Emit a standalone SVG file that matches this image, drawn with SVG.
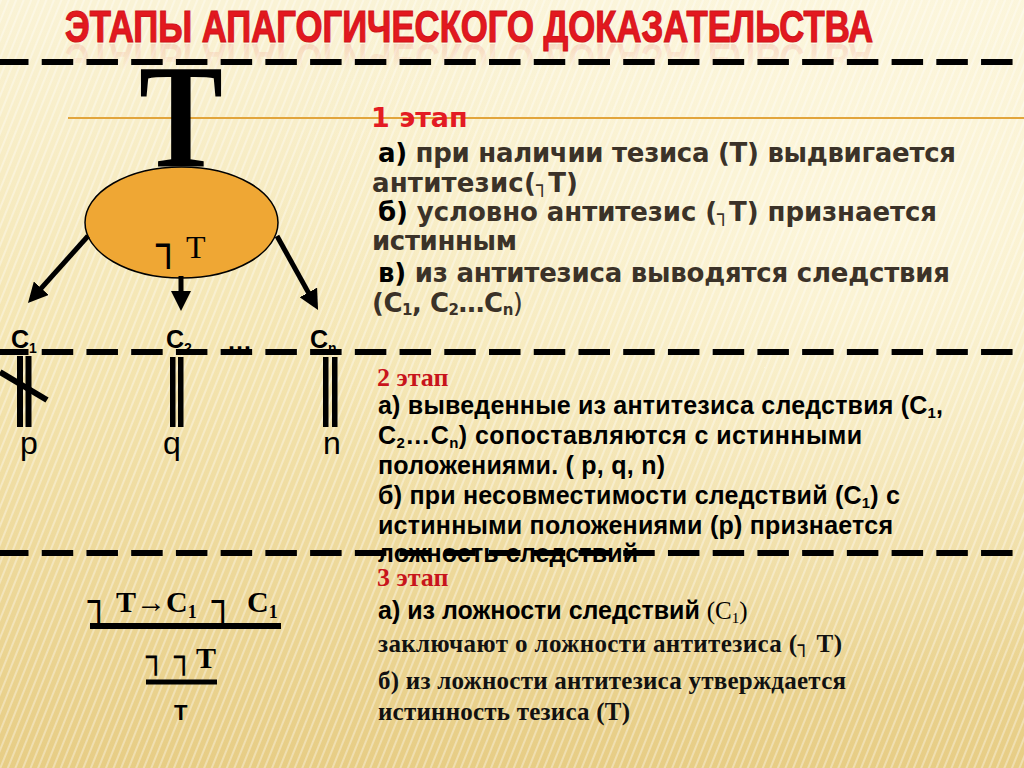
<svg xmlns="http://www.w3.org/2000/svg" width="1024" height="768" viewBox="0 0 1024 768">
  <defs>
    <linearGradient id="bg" x1="0" y1="0" x2="0" y2="1">
      <stop offset="0" stop-color="#faf3d6"/>
      <stop offset="0.45" stop-color="#f4e5b1"/>
      <stop offset="1" stop-color="#e7cd85"/>
    </linearGradient>
    <radialGradient id="glow" cx="0.85" cy="0.3" r="0.6">
      <stop offset="0" stop-color="#fffbe8" stop-opacity="0.7"/>
      <stop offset="1" stop-color="#fffbe8" stop-opacity="0"/>
    </radialGradient>
    <pattern id="stripes" width="7" height="7" patternUnits="userSpaceOnUse" patternTransform="rotate(22)">
      <rect x="0" y="0" width="2" height="7" fill="#ffffff" opacity="0.35"/>
    </pattern>
    <linearGradient id="refl" x1="0" y1="0" x2="0" y2="1">
      <stop offset="0.3" stop-color="#e3262b" stop-opacity="0"/>
      <stop offset="1" stop-color="#e3262b" stop-opacity="0.18"/>
    </linearGradient>
    <marker id="ah" markerUnits="userSpaceOnUse" markerWidth="20" markerHeight="20" refX="3" refY="10" orient="auto">
      <path d="M0,0 L20,10 L0,20 z" fill="#000"/>
    </marker>
    <style>
      .dash { stroke:#000; stroke-width:6; stroke-dasharray:31.5 13.23; fill:none; }
      .s1 { font-family:"DejaVu Sans", sans-serif; font-weight:bold; font-size:26px; fill:#3b3228; }
      .s2 { font-family:"Liberation Sans", Arial, sans-serif; font-weight:bold; font-size:25px; fill:#000; }
      .s3 { font-family:"Liberation Serif", "Times New Roman", serif; font-weight:bold; font-size:25px; fill:#111; }
      .blk { fill:#000; }
      .box { font-family:"DejaVu Sans", sans-serif; font-weight:normal; }
      .lbl { font-family:"Liberation Sans", Arial, sans-serif; font-weight:bold; font-size:25px; fill:#000; }
      .sub { font-size:14px; }
      .pq { font-family:"Liberation Sans", Arial, sans-serif; font-size:32px; fill:#000; }
      .frm { font-family:"Liberation Serif", "Times New Roman", serif; font-weight:bold; font-size:30px; fill:#000; }
      .stg { font-family:"Liberation Serif", "Times New Roman", serif; font-weight:bold; font-size:26px; fill:#c8141b; }
      .bar { fill:#000; }
    </style>
  </defs>

  <!-- background -->
  <rect width="1024" height="768" fill="url(#bg)"/>
  <rect width="1024" height="768" fill="url(#glow)"/>
  <rect width="1024" height="768" fill="url(#stripes)"/>

  <!-- title -->
  <g id="title">
    <text transform="matrix(1,0,0,-1,0,86)" x="65" y="42" font-family="'Liberation Sans', Arial, sans-serif" font-weight="bold" font-size="45" fill="url(#refl)" textLength="808" lengthAdjust="spacingAndGlyphs">ЭТАПЫ АПАГОГИЧЕСКОГО ДОКАЗАТЕЛЬСТВА</text>
    <text x="65" y="42" font-family="'Liberation Sans', Arial, sans-serif" font-weight="bold" font-size="45" fill="#e3181f" stroke="#d0141a" stroke-width="1.2" textLength="808" lengthAdjust="spacingAndGlyphs">ЭТАПЫ АПАГОГИЧЕСКОГО ДОКАЗАТЕЛЬСТВА</text>
  </g>

  <!-- thin orange rule -->
  <line x1="68" y1="118" x2="1024" y2="118" stroke="#e2a53c" stroke-width="2"/>

  <!-- thesis T -->
  <g id="thesis">
    <text x="139" y="167" font-family="'Liberation Serif', 'Times New Roman', serif" font-weight="bold" font-size="148" fill="#000" textLength="84" lengthAdjust="spacingAndGlyphs">T</text>
  </g>

  <!-- antithesis ellipse -->
  <g id="antithesis">
    <ellipse cx="181.5" cy="222.5" rx="96.5" ry="55.5" fill="#efa734" stroke="#000" stroke-width="1.5"/>
    <text x="156" y="259" class="box" font-size="40" fill="#000">┐</text>
    <text x="186" y="258" font-family="'Liberation Serif', 'Times New Roman', serif" font-size="32" fill="#000">T</text>
  </g>

  <!-- connectors -->
  <g id="connectors" stroke="#000" stroke-width="5" fill="none">
    <line x1="88" y1="236" x2="39.3" y2="290.4" marker-end="url(#ah)"/>
    <line x1="181" y1="276" x2="181" y2="294" marker-end="url(#ah)"/>
    <line x1="277" y1="236" x2="309.8" y2="295.1" marker-end="url(#ah)"/>
  </g>

  <!-- consequences -->
  <g id="c1">
    <text x="11" y="348" class="lbl">C<tspan class="sub" dy="5">1</tspan></text>
  </g>
  <g id="c2">
    <text x="166" y="348" class="lbl">C<tspan class="sub" dy="5">2</tspan></text>
  </g>
  <g id="dots">
    <text x="227" y="350" class="lbl">…</text>
  </g>
  <g id="cn">
    <text x="310" y="348" class="lbl">C<tspan class="sub" dy="5">n</tspan></text>
  </g>

  <!-- equality bars -->
  <g id="eq-p">
    <rect x="17" y="356" width="6" height="71" class="bar"/>
    <rect x="25.5" y="356" width="6" height="71" class="bar"/>
    <line x1="0" y1="372" x2="47" y2="400" stroke="#000" stroke-width="6"/>
    <text x="20" y="454" class="pq">p</text>
  </g>
  <g id="eq-q">
    <rect x="170" y="357" width="5.5" height="70" class="bar"/>
    <rect x="178" y="357" width="5.5" height="70" class="bar"/>
    <text x="163" y="454" class="pq">q</text>
  </g>
  <g id="eq-n">
    <rect x="323" y="357" width="5.5" height="70" class="bar"/>
    <rect x="332" y="357" width="5.5" height="70" class="bar"/>
    <text x="323" y="454" class="pq">n</text>
  </g>

  <!-- stage 1 -->
  <g id="stage1">
    <text x="371" y="127" font-family="'DejaVu Sans', sans-serif" font-weight="bold" font-size="27" fill="#e31b23">1 этап</text>
    <text x="378" y="162" class="s1" textLength="578"><tspan class="blk">а)</tspan> при наличии тезиса (Т) выдвигается</text>
    <text x="372" y="192" class="s1" textLength="206">антитезис(<tspan class="box" font-size="20">┐</tspan>Т)</text>
    <text x="378" y="221" class="s1" textLength="559"><tspan class="blk">б)</tspan> условно антитезис (<tspan class="box" font-size="20">┐</tspan>Т) признается</text>
    <text x="372" y="250" class="s1" textLength="145">истинным</text>
    <text x="378" y="282" class="s1" textLength="572"><tspan class="blk">в)</tspan> из антитезиса выводятся следствия</text>
    <text x="372" y="312" class="s1" textLength="151">(C<tspan font-size="15" dy="3">1</tspan><tspan dy="-3">, C</tspan><tspan font-size="15" dy="3">2</tspan><tspan dy="-3">…C</tspan><tspan font-size="15" dy="3">n</tspan><tspan dy="-3" font-weight="normal">)</tspan></text>
  </g>

  <!-- stage 2 -->
  <g id="stage2">
    <text x="377" y="386" class="stg">2 этап</text>
    <text x="378" y="414" class="s2" textLength="565">а) выведенные из антитезиса следствия (C<tspan font-size="15" dy="4">1</tspan><tspan dy="-4">,</tspan></text>
    <text x="378" y="444" class="s2" textLength="484">C<tspan font-size="15" dy="4">2</tspan><tspan dy="-4">…C</tspan><tspan font-size="15" dy="4">n</tspan><tspan dy="-4">)  сопоставляются с истинными</tspan></text>
    <text x="378" y="474" class="s2" textLength="287">положениями. ( p, q, n)</text>
    <text x="378" y="504" class="s2" textLength="522">б) при несовместимости следствий (C<tspan font-size="15" dy="4">1</tspan><tspan dy="-4">) с</tspan></text>
    <text x="378" y="534" class="s2" textLength="515">истинными положениями (p) признается</text>
    <text x="378" y="562" class="s2" textLength="260">ложность следствий</text>
  </g>

  <!-- stage 3 -->
  <g id="stage3">
    <text x="377" y="586" class="stg">3 этап</text>
    <text x="378" y="619" class="s2">а) из ложности следствий <tspan font-family="'Liberation Serif', 'Times New Roman', serif" font-weight="normal" font-size="25">(C<tspan font-size="15" dy="4">1</tspan><tspan dy="-4">)</tspan></tspan></text>
    <text x="378" y="652" class="s3" textLength="464">заключают о ложности антитезиса  (<tspan class="box" font-size="20">┐</tspan> T)</text>
    <text x="378" y="689" class="s3" textLength="468">б) из ложности антитезиса утверждается</text>
    <text x="378" y="720" class="s3" textLength="252">истинность тезиса (T)</text>
  </g>

  <!-- formula -->
  <g id="formula">
    <text x="88" y="614" class="box" font-size="36" fill="#000">┐</text>
    <text x="116" y="612" class="frm">T→C<tspan font-size="18" dy="6">1</tspan></text>
    <text x="212" y="614" class="box" font-size="36" fill="#000">┐</text>
    <text x="247" y="612" class="frm">C<tspan font-size="18" dy="6">1</tspan></text>
    <rect x="90" y="623" width="191" height="6" class="bar"/>
    <text x="146" y="668" class="box" font-size="32" fill="#000">┐</text>
    <text x="174" y="668" class="box" font-size="32" fill="#000">┐</text>
    <text x="196" y="668" class="frm" font-size="24">T</text>
    <rect x="146" y="679.5" width="71" height="5" class="bar"/>
    <text x="174" y="720" font-family="'Liberation Sans', Arial, sans-serif" font-weight="bold" font-size="22" fill="#000">T</text>
  </g>

  <!-- dashed separators -->
  <g id="separators">
    <line x1="-3" y1="62" x2="1024" y2="62" class="dash"/>
    <line x1="-3" y1="352" x2="1024" y2="352" class="dash"/>
    <line x1="-3" y1="553" x2="1024" y2="553" class="dash"/>
  </g>
</svg>
